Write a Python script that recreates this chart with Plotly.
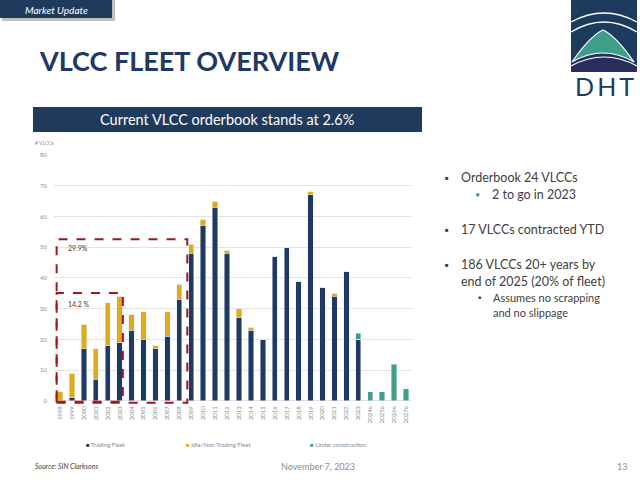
import plotly.graph_objects as go

# categories and series (number of VLCCs delivered per year)
years = [str(y) for y in range(1998, 2024)] + ["2024e", "2025e", "2026e", "2027e"]
trading_fleet = [0, 1, 17, 7, 18, 19, 23, 20, 17, 21, 33, 48, 57, 63, 48, 27, 23, 20,
                 47, 50, 39, 67, 37, 34, 42, 20, 0, 0, 0, 0]
idle_fleet = [3, 8, 8, 10, 14, 15, 5, 9, 1, 8, 5, 3, 2, 2, 1, 3, 1, 0,
              0, 0, 0, 1, 0, 1, 0, 0, 0, 0, 0, 0]
under_construction = [0] * 25 + [2, 3, 3, 12, 4]

box_labels = ["29.9%", "14.2 %"]

NAVY = "#203864"
GOLD = "#E1AA1B"
TEAL = "#3E9E8A"
DARK = "#1F3A5C"
RED = "#A01818"

# page pixel -> paper coordinates
L, R, T, B = 54, 228, 155, 76
PW = 640 - L - R
PH = 480 - T - B


def px(x):
    return (x - L) / PW


def py(y):
    return 1 - (y - T) / PH


def to_path(cmds):
    out = []
    for c in cmds:
        if isinstance(c, str):
            out.append(c)
        else:
            out.append(f"{px(c[0]):.5f},{py(c[1]):.5f}")
    return " ".join(out)


fig = go.Figure()
fig.add_bar(x=years, y=trading_fleet, name="Trading Fleet", marker_color=NAVY)
fig.add_bar(x=years, y=idle_fleet, name="Idle/Non-Trading Fleet", marker_color=GOLD)
fig.add_bar(x=years, y=under_construction, name="Under construction", marker_color=TEAL)

fig.update_layout(
    width=640, height=480,
    margin=dict(l=L, r=R, t=T, b=B),
    barmode="stack", bargap=0.55,
    showlegend=False,
    plot_bgcolor="white", paper_bgcolor="white",
    font=dict(family="Lato, Open Sans, sans-serif", color="#404040"),
)
fig.update_xaxes(type="category", range=[-0.5, 29.5], tickangle=-90,
                 tickfont=dict(size=6, color="#8c8c8c"), showgrid=False,
                 showline=False, ticks="")
fig.update_yaxes(range=[-1, 80], dtick=10, tick0=0, showgrid=True,
                 gridcolor="#e3e3e3", gridwidth=1, zeroline=False,
                 tickfont=dict(size=6, color="#8c8c8c"), ticklabelstandoff=6)

shapes = []
# dashed red boxes
shapes.append(dict(type="rect", xref="x", yref="y", x0=-0.28, x1=10.67, y0=-0.6, y1=52.6,
                   line=dict(color=RED, width=2, dash="dash")))
shapes.append(dict(type="rect", xref="x", yref="y", x0=-0.28, x1=5.27, y0=-0.3, y1=35.1,
                   line=dict(color=RED, width=2, dash="dash")))

# "Market Update" tab with shadow
shapes.append(dict(type="rect", xref="paper", yref="paper", x0=px(2), x1=px(115), y0=py(21), y1=py(0),
                   fillcolor="#bfbfbf", line_width=0, layer="below"))
shapes.append(dict(type="rect", xref="paper", yref="paper", x0=px(0), x1=px(112), y0=py(18), y1=py(0),
                   fillcolor=DARK, line_width=0))
# chart header bar
shapes.append(dict(type="rect", xref="paper", yref="paper", x0=px(33), x1=px(422), y0=py(132), y1=py(107),
                   fillcolor=DARK, line_width=0))

# DHT logo
shapes.append(dict(type="rect", xref="paper", yref="paper", x0=px(571), x1=px(637), y0=py(72), y1=py(0),
                   fillcolor="#1D3B5E", line_width=0))
shapes.append(dict(type="path", xref="paper", yref="paper",
                   path=to_path(["M", (571, 22), "Q", (604, 4), (637, 22)]),
                   line=dict(color="white", width=1.3)))
shapes.append(dict(type="path", xref="paper", yref="paper",
                   path=to_path(["M", (571, 32), "Q", (604, 12), (637, 32)]),
                   line=dict(color="white", width=1.3)))
shapes.append(dict(type="path", xref="paper", yref="paper",
                   path=to_path(["M", (571, 72), "L", (637, 72), "L", (637, 64), "Q", (604, 44), (571, 64), "Z"]),
                   fillcolor="#2A2E5C", line_width=0))
shapes.append(dict(type="path", xref="paper", yref="paper",
                   path=to_path(["M", (572, 62), "Q", (590, 36), (603, 30), "Q", (616, 36), (634, 62),
                                 "Q", (603, 44), (572, 62), "Z"]),
                   fillcolor=TEAL, line=dict(color="white", width=1.2)))
shapes.append(dict(type="path", xref="paper", yref="paper",
                   path=to_path(["M", (571, 66), "Q", (604, 48), (637, 66)]),
                   line=dict(color="white", width=1.2)))

fig.update_layout(shapes=shapes)

ann = []


def text(x, y, s, size, color="#404040", anchor="left", **kw):
    d = dict(x=px(x), y=py(y), xref="paper", yref="paper", text=s, showarrow=False,
             xanchor=anchor, yanchor="middle", font=dict(size=size, color=color))
    d.update(kw)
    ann.append(d)


text(23, 10, "<i>Market Update</i>", 10, color="white")
text(37, 61, "<b>VLCC FLEET OVERVIEW</b>", 27, color=NAVY)
text(227, 119, "Current VLCC orderbook stands at 2.6%", 14.5, color="white", anchor="center")
text(604, 86, "D\u2009H\u2009T", 25, color="#1D3B5E", anchor="center")
text(33, 143, "# VLCCs", 5, color="#8c8c8c")

# box labels
text(66, 248, box_labels[0], 7)
text(66, 304, box_labels[1], 7)

# legend
names = ["Trading Fleet", "Idle/Non-Trading Fleet", "Under construction"]
colors = [NAVY, GOLD, TEAL]
for x, n, c in zip([84, 184, 308], names, colors):
    text(x, 444, f"<span style='color:{c}'>■</span> {n}", 6, color="#8c8c8c")

# right-side bullets
for yb in (177, 229, 264):
    text(443, yb, "■", 6, color="#404040")
text(459, 177, "Orderbook 24 VLCCs", 12.5)
text(473, 194, "•", 9, color=TEAL)
text(490, 194, "2 to go in 2023", 12.5)
text(459, 229, "17 VLCCs contracted YTD", 12.5)
text(459, 264, "186 VLCCs 20+ years by", 12.5)
text(459, 281, "end of 2025 (20% of fleet)", 12.5)
text(476, 297, "■", 5, color="#404040")
text(491, 297, "Assumes no scrapping", 11)
text(491, 312, "and no slippage", 11)

# footer
text(33, 466, "<i>Source: SIN Clarksons</i>", 7)
text(318, 466, "November 7, 2023", 9, color="#8c8c8c", anchor="center")
text(622, 466, "13", 9, color="#8c8c8c", anchor="center")

fig.update_layout(annotations=ann)

fig.write_html("out.html", config={"displayModeBar": False},
               post_script="document.body.style.margin='0';")
